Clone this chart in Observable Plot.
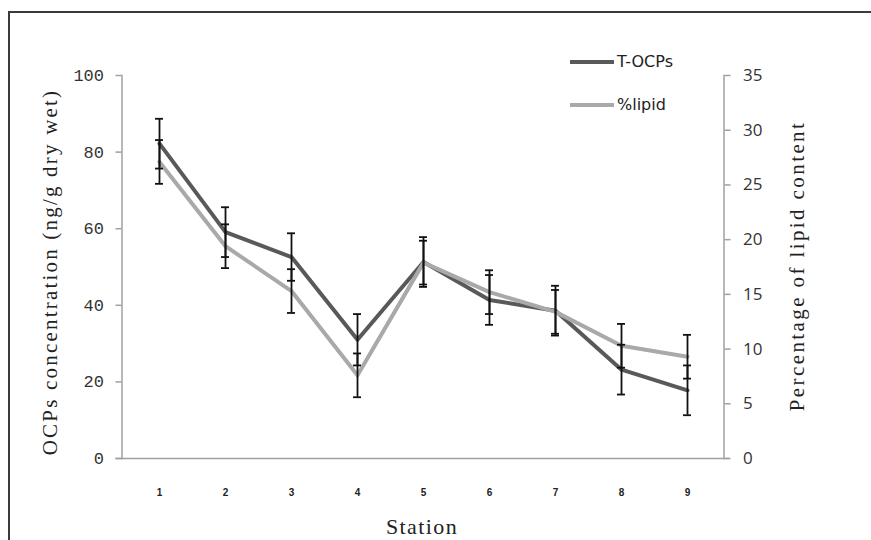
<!DOCTYPE html>
<html>
<head>
<meta charset="utf-8">
<script src="https://cdn.jsdelivr.net/npm/d3@7"></script>
<script src="https://cdn.jsdelivr.net/npm/@observablehq/plot@0.6"></script>
<style>
  html, body { margin: 0; padding: 0; background: #fff; }
  #wrap { position: relative; width: 871px; height: 540px; overflow: hidden; }
  #frame { position: absolute; left: 8px; top: 11px; width: 900px; height: 600px;
           border-top: 2px solid #3a3a3a; border-left: 2px solid #3a3a3a; }
  #chart { position: absolute; left: 0; top: 0; }
  .title { position: absolute; font-family: "Liberation Serif", serif; color: #222; white-space: nowrap; }
  #legend { position: absolute; left: 570px; top: 50px; font-family: "DejaVu Sans", sans-serif; font-size: 16px; color: #222; }
  .item { position: absolute; display: flex; align-items: center; white-space: nowrap; }
  .sw { width: 44px; height: 4px; margin-right: 3px; }
</style>
</head>
<body>
<div id="wrap">
  <div id="frame"></div>
  <div id="chart"></div>
  <div class="title" style="font-size:21px; left:50px; top:272px; transform: translate(-50%,-50%) rotate(-90deg); letter-spacing:2.2px;">OCPs concentration (ng/g dry wet)</div>
  <div class="title" style="font-size:21px; left:797px; top:266px; transform: translate(-50%,-50%) rotate(-90deg); letter-spacing:2.4px;">Percentage of lipid content</div>
  <div class="title" style="font-size:22px; left:422px; top:527px; transform: translate(-50%,-50%); letter-spacing:1.4px;">Station</div>
  <div id="legend">
    <div class="item" style="top:2px;left:0"><div class="sw" style="background:#595959"></div>T-OCPs</div>
    <div class="item" style="top:45px;left:0"><div class="sw" style="background:#a9a9a9"></div>%lipid</div>
  </div>
</div>
<script>
const stations = [1, 2, 3, 4, 5, 6, 7, 8, 9];
const tOCPs    = [82.2, 59.1, 52.6, 31.0, 51.3, 41.4, 38.6, 23.2, 17.8];
const tOCPsErr = [6.5, 6.5, 6.2, 6.7, 6.5, 6.5, 6.5, 6.5, 6.5];
const lipid    = [27.1, 19.4, 15.3, 7.6, 17.9, 15.2, 13.4, 10.3, 9.3];
const lipidErr = [2.0, 2.0, 2.0, 2.0, 2.0, 2.0, 2.0, 2.0, 2.0];
const leftTicks  = [0, 20, 40, 60, 80, 100];
const rightTicks = [0, 5, 10, 15, 20, 25, 30, 35];
const leftMax = 100, rightMax = 35;

const k = leftMax / rightMax;
const rows = [];
stations.forEach((s, i) => {
  rows.push({station: s, series: "T-OCPs", v: tOCPs[i], lo: tOCPs[i] - tOCPsErr[i], hi: tOCPs[i] + tOCPsErr[i]});
});
stations.forEach((s, i) => {
  rows.push({station: s, series: "%lipid", v: lipid[i] * k, lo: (lipid[i] - lipidErr[i]) * k, hi: (lipid[i] + lipidErr[i]) * k});
});
const caps = rows.flatMap(d => [{station: d.station, y: d.lo}, {station: d.station, y: d.hi}]);
const axisColor = "#a0a0a0";

const chart = Plot.plot({
  width: 871,
  height: 540,
  marginLeft: 121.5,
  marginRight: 147.5,
  marginTop: 75,
  marginBottom: 82,
  style: {background: "transparent"},
  x: {type: "band", domain: stations, padding: 0, axis: null},
  y: {domain: [0, leftMax], axis: null},
  marks: [
    Plot.frame({anchor: "left", stroke: axisColor, strokeWidth: 1.5}),
    Plot.frame({anchor: "right", stroke: axisColor, strokeWidth: 1.5}),
    Plot.ruleY([0], {stroke: axisColor, strokeWidth: 1.5, insetLeft: -6, insetRight: -6}),
    Plot.axisY({ticks: leftTicks, tickSize: 6, tickPadding: 12, stroke: axisColor, strokeWidth: 1.5,
      fill: "#333", fontSize: 17, fontFamily: "Liberation Mono", tickFormat: d => String(d), label: null}),
    Plot.axisY({anchor: "right", ticks: rightTicks.map(v => v * k), tickSize: 6, tickPadding: 13,
      stroke: axisColor, strokeWidth: 1.5, fill: "#333", fontSize: 17, fontFamily: "Open Sans",
      tickFormat: d => String(Math.round(d / k)), label: null}),
    Plot.axisX({ticks: stations, tickSize: 0, tickPadding: 30, fill: "#222", fontSize: 10,
      fontWeight: "bold", fontFamily: "Liberation Sans", label: null}),
    Plot.line(rows.filter(d => d.series === "T-OCPs"), {x: "station", y: "v", stroke: "#595959", strokeWidth: 4}),
    Plot.line(rows.filter(d => d.series === "%lipid"), {x: "station", y: "v", stroke: "#a9a9a9", strokeWidth: 4}),
    Plot.ruleX(rows, {x: "station", y1: "lo", y2: "hi", stroke: "#111", strokeWidth: 1.8}),
    Plot.tickY(caps, {x: "station", y: "y", stroke: "#111", strokeWidth: 1.8, insetLeft: 29, insetRight: 29})
  ]
});
document.getElementById("chart").appendChild(chart);
</script>
</body>
</html>
